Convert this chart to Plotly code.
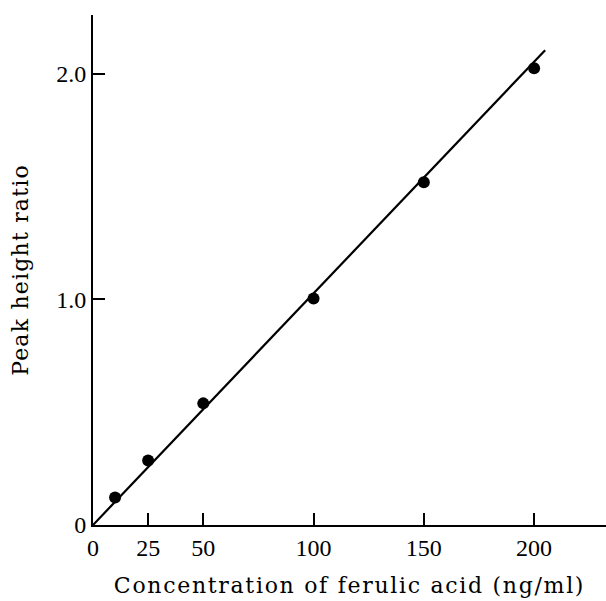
import plotly.graph_objects as go

# Data
concentration = [10, 25, 50, 100, 150, 200]          # ng/ml
peak_ratio = [0.122, 0.286, 0.539, 1.004, 1.519, 2.024]

# Regression line end points
fit_x = [0, 205]
fit_y = [0, 2.104]

x_ticks = [0, 25, 50, 100, 150, 200]
x_ticklabels = ["0", "25", "50", "100", "150", "200"]
y_ticks = [0, 1.0, 2.0]
y_ticklabels = ["0", "1.0", "2.0"]

fig = go.Figure()
fig.add_trace(go.Scatter(x=fit_x, y=fit_y, mode="lines",
                         line=dict(color="black", width=2.2),
                         showlegend=False, hoverinfo="skip"))
fig.add_trace(go.Scatter(x=concentration, y=peak_ratio, mode="markers",
                         marker=dict(color="black", size=12),
                         showlegend=False))

tick_font = dict(family="Liberation Serif", size=24, color="black")
title_font = dict(family="DejaVu Serif", size=22, color="black")

fig.update_layout(
    width=606, height=601,
    margin=dict(l=93, r=0, t=15, b=76),
    paper_bgcolor="white", plot_bgcolor="white",
    font=dict(family="Liberation Serif", color="black"),
    xaxis=dict(
        range=[0, 232.6], tickvals=x_ticks, ticktext=x_ticklabels,
        showline=True, linecolor="black", linewidth=2,
        ticks="inside", ticklen=12, tickwidth=2, tickcolor="black",
        showgrid=False, zeroline=False, tickfont=tick_font,
        title=dict(text="Concentration of ferulic acid (ng/ml)",
                   font=title_font, standoff=18),
    ),
    yaxis=dict(
        range=[0, 2.26], tickvals=y_ticks, ticktext=y_ticklabels,
        showline=True, linecolor="black", linewidth=2,
        ticks="inside", ticklen=12, tickwidth=2, tickcolor="black",
        showgrid=False, zeroline=False, tickfont=tick_font,
        title=dict(text="Peak height ratio", font=title_font, standoff=22),
    ),
)

post = """
document.body.style.margin = '0';
document.querySelectorAll('.xtitle').forEach(function(e){ e.style.letterSpacing = '1.7px'; });
document.querySelectorAll('.ytitle').forEach(function(e){ e.style.letterSpacing = '1.2px'; });
"""

fig.write_html("out.html", post_script=post, config={"displayModeBar": False})
